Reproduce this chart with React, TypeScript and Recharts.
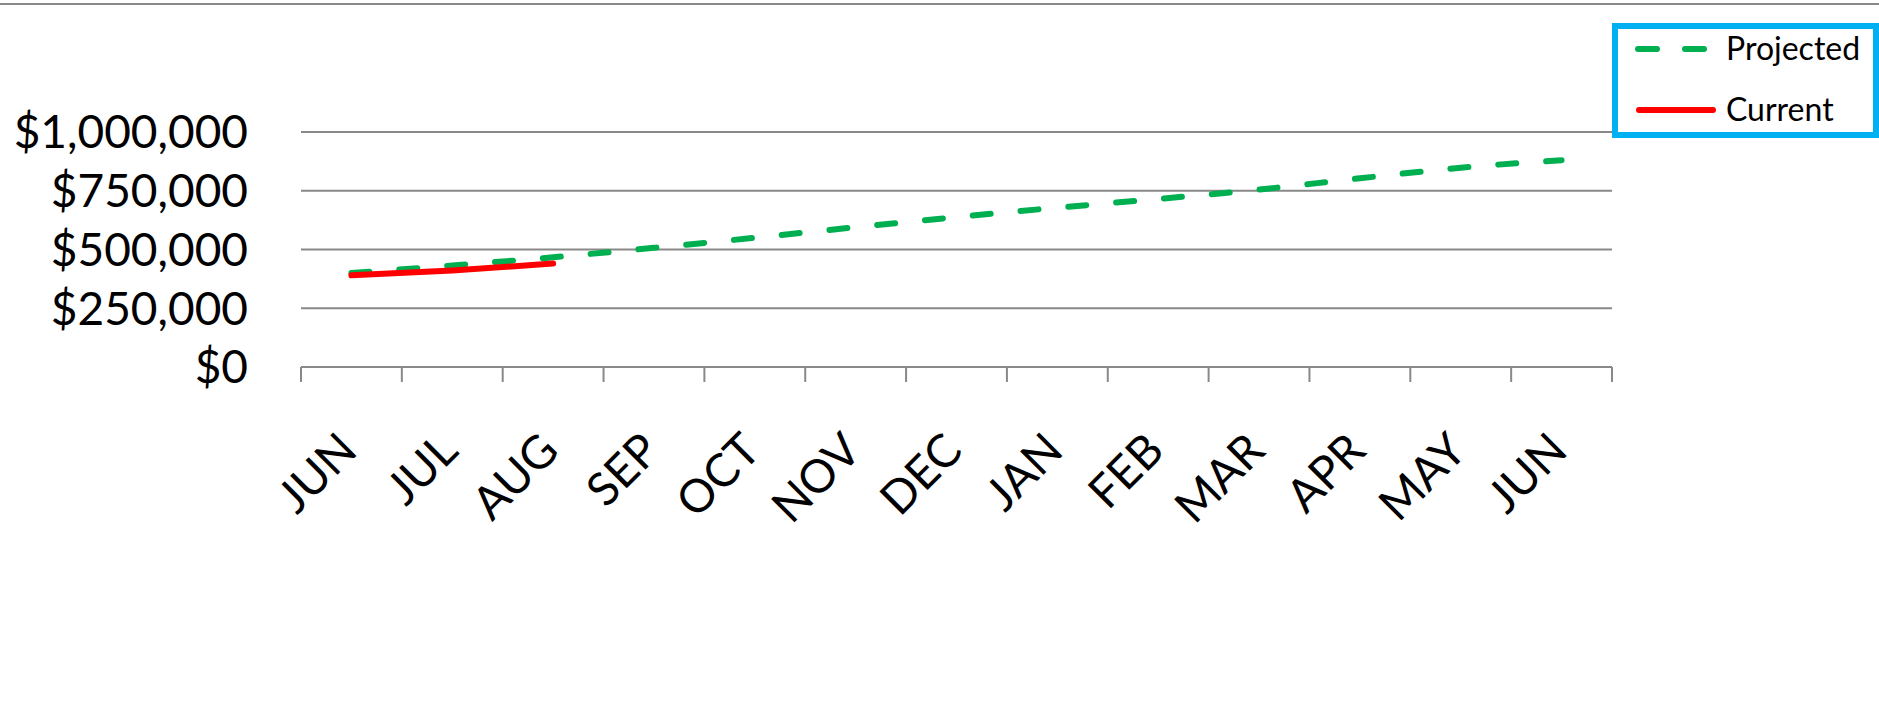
import { LineChart, Line, XAxis, YAxis, CartesianGrid, Legend } from "recharts";

const months = ["JUN", "JUL", "AUG", "SEP", "OCT", "NOV", "DEC", "JAN", "FEB", "MAR", "APR", "MAY", "JUN"];
const projected = [400000, 432000, 467000, 507000, 550000, 595000, 638000, 678000, 715000, 755000, 803000, 848000, 880000];
const current = [390000, 411000, 440000];
const yTicks = [0, 250000, 500000, 750000, 1000000];
const legendOrder = ["Projected", "Current"];

const WIDTH = 1879;
const HEIGHT = 725;
const PLOT_LEFT = 301;
const PLOT_RIGHT = 1612;
const PLOT_TOP = 132;
const PLOT_BOTTOM = 367;
const BAND = (PLOT_RIGHT - PLOT_LEFT) / months.length;

const GRID = "#898989";
const FONT = "Lato, 'Open Sans', sans-serif";

const data = months.map((m, i) => ({
  key: `${m}-${i}`,
  projected: projected[i],
  current: i < current.length ? current[i] : null,
}));

function money(v: number) {
  return "$" + v.toLocaleString("en-US");
}

// Excel-style: ticks sit on band boundaries, labels rotated -45 under the band
function MonthTick(props: any) {
  const { x, y, index } = props;
  const half = BAND / 2;
  const px = x + 8;
  const py = y + 86;
  return (
    <g>
      <line x1={x - half} x2={x - half} y1={y} y2={y + 15} stroke={GRID} strokeWidth={2} />
      {index === months.length - 1 && (
        <line x1={x + half} x2={x + half} y1={y} y2={y + 15} stroke={GRID} strokeWidth={2} />
      )}
      <text
        x={px}
        y={py}
        textAnchor="end"
        transform={`rotate(-45, ${px}, ${py})`}
        fill="#000"
        fontSize={46}
        fontFamily={FONT}
      >
        {months[index]}
      </text>
    </g>
  );
}

function LegendBox(props: any) {
  const items = [...(props.payload || [])].sort(
    (a: any, b: any) => legendOrder.indexOf(a.value) - legendOrder.indexOf(b.value)
  );
  return (
    <svg width={267} height={115} style={{ display: "block" }}>
      <rect x={3} y={3} width={261} height={109} fill="#fff" stroke="#00B0F0" strokeWidth={6} />
      {items.map((item: any, i: number) => {
        const cy = i === 0 ? 26 : 87;
        const dashed = item.value === "Projected";
        return (
          <g key={item.value}>
            <line
              x1={dashed ? 26 : 27}
              x2={dashed ? 92 : 101}
              y1={cy}
              y2={cy}
              stroke={item.color}
              strokeWidth={6}
              strokeLinecap="round"
              strokeDasharray={dashed ? "19 28" : undefined}
            />
            <text x={114} y={cy + 11} fontSize={32} fontFamily={FONT} fill="#000">
              {item.value}
            </text>
          </g>
        );
      })}
    </svg>
  );
}

export default function App() {
  return (
    <div
      style={{
        position: "absolute",
        left: 0,
        top: 0,
        width: WIDTH,
        height: HEIGHT,
        background: "#fff",
      }}
    >
      <div style={{ position: "absolute", left: 0, top: 3, width: WIDTH, height: 2, background: GRID }} />
      <LineChart
        width={WIDTH}
        height={HEIGHT}
        data={data}
        margin={{ top: PLOT_TOP, right: WIDTH - PLOT_RIGHT, bottom: 0, left: 0 }}
      >
        <CartesianGrid vertical={false} stroke={GRID} strokeWidth={2} />
        <XAxis
          dataKey="key"
          type="category"
          interval={0}
          height={HEIGHT - PLOT_BOTTOM}
          padding={{ left: BAND / 2, right: BAND / 2 }}
          axisLine={{ stroke: GRID, strokeWidth: 2 }}
          tickLine={false}
          tickSize={0}
          tickMargin={0}
          tick={(p: any) => <MonthTick {...p} />}
        />
        <YAxis
          width={PLOT_LEFT}
          domain={[0, 1000000]}
          ticks={yTicks}
          tickFormatter={money}
          axisLine={false}
          tickLine={false}
          tickSize={0}
          tickMargin={53}
          tick={{ fill: "#000", fontSize: 46, fontFamily: FONT }}
        />
        <Legend
          layout="horizontal"
          verticalAlign="middle"
          align="center"
          wrapperStyle={{ left: 1612, top: 23, width: 267, height: 115 }}
          content={(p: any) => <LegendBox {...p} />}
        />
        <Line
          name="Projected"
          dataKey="projected"
          type="monotone"
          stroke="#00B050"
          strokeWidth={6}
          strokeDasharray="18 30"
          strokeLinecap="round"
          dot={false}
          activeDot={false}
          isAnimationActive={false}
        />
        <Line
          name="Current"
          dataKey="current"
          type="monotone"
          stroke="#FF0000"
          strokeWidth={6}
          strokeLinecap="round"
          dot={false}
          activeDot={false}
          isAnimationActive={false}
        />
      </LineChart>
    </div>
  );
}
